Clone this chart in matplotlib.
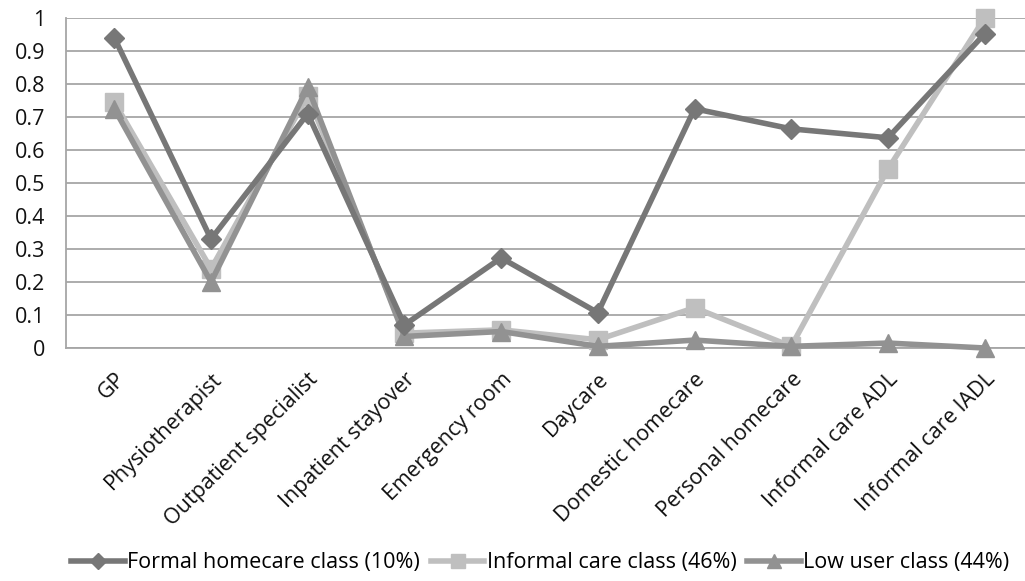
import matplotlib.pyplot as plt
from matplotlib.ticker import MultipleLocator, FuncFormatter

plt.rcParams['font.family'] = ['Open Sans', 'DejaVu Sans']

categories = ["GP", "Physiotherapist", "Outpatient specialist", "Inpatient stayover",
              "Emergency room", "Daycare", "Domestic homecare", "Personal homecare",
              "Informal care ADL", "Informal care IADL"]

formal_homecare = [0.94, 0.33, 0.71, 0.07, 0.273, 0.107, 0.725, 0.664, 0.637, 0.952]
informal_care = [0.745, 0.24, 0.765, 0.045, 0.055, 0.025, 0.122, 0.005, 0.542, 1.0]
low_user = [0.725, 0.2, 0.79, 0.035, 0.05, 0.005, 0.024, 0.005, 0.015, 0.0]

series_names = ["Formal homecare class (10%)", "Informal care class (46%)", "Low user class (44%)"]

fig = plt.figure(figsize=(10.25, 5.81), dpi=100)
ax = fig.add_axes([66 / 1025, 233 / 581, 967 / 1025, 330 / 581])

x = range(len(categories))
ax.plot(x, formal_homecare, color="#777777", lw=4, marker="D", ms=10,
        label=series_names[0], zorder=5, clip_on=False)
ax.plot(x, informal_care, color="#bfbfbf", lw=4, marker="s", ms=13,
        label=series_names[1], zorder=4, clip_on=False)
ax.plot(x, low_user, color="#929292", lw=4, marker="^", ms=13,
        label=series_names[2], zorder=4, clip_on=False)

ax.set_xlim(-0.5, 9.5)
ax.set_ylim(0, 1)
ax.yaxis.set_major_locator(MultipleLocator(0.1))
ax.yaxis.set_major_formatter(FuncFormatter(lambda v, p: f"{v:.1f}".rstrip("0").rstrip(".") if v else "0"))
ax.grid(axis="y", color="#a6a6a6", lw=1.3)
ax.set_axisbelow(True)
for s in ["top", "right"]:
    ax.spines[s].set_visible(False)
ax.spines["left"].set_color("#a6a6a6")
ax.spines["bottom"].set_color("#a6a6a6")
ax.spines["left"].set_linewidth(1.3)
ax.spines["bottom"].set_linewidth(1.3)
ax.tick_params(length=0, labelsize=15.5, colors="#111111")
ax.tick_params(axis="y", pad=15)
ax.tick_params(axis="x", pad=15)

ax.set_xticks(list(x))
ax.set_xticklabels(categories, rotation=45, ha="right", rotation_mode="anchor", fontsize=15.5)

fig.legend(loc="center", bbox_to_anchor=(0.527, 0.031), ncol=3, frameon=False,
           fontsize=15.5, handlelength=2.5, handletextpad=0.1, columnspacing=0.5,
           markerscale=0.8)

fig.savefig("out.png", dpi=100)
